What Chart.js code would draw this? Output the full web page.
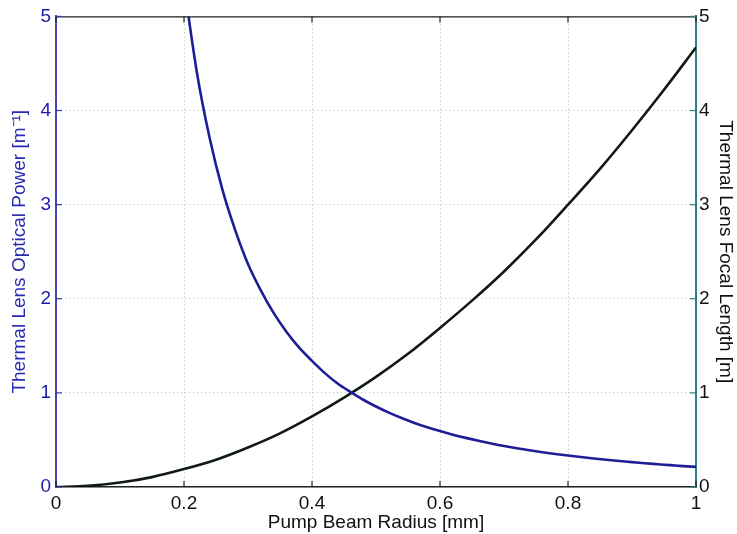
<!DOCTYPE html>
<html>
<head>
<meta charset="utf-8">
<script src="https://cdn.jsdelivr.net/npm/chart.js@4/dist/chart.umd.min.js"></script>
<style>
  html, body { margin: 0; padding: 0; background: #fff; }
  #wrap { width: 737px; height: 534px; }
</style>
</head>
<body>
<div id="wrap"><canvas id="c" width="737" height="534"></canvas></div>
<script>
// Pump beam radius [mm] and read values
const radiusBlack = [0, 0.05, 0.1, 0.15, 0.2, 0.25, 0.3, 0.35, 0.4, 0.45, 0.5, 0.55, 0.6, 0.65, 0.7, 0.75, 0.8, 0.85, 0.9, 0.95, 1.0];
const focalLength = [0, 0.012, 0.047, 0.105, 0.19, 0.29, 0.42, 0.57, 0.75, 0.95, 1.17, 1.415, 1.69, 1.98, 2.29, 2.63, 3.0, 3.38, 3.79, 4.22, 4.67];
const radiusBlue = [0.2, 0.22, 0.24, 0.26, 0.28, 0.3, 0.32, 0.34, 0.36, 0.38, 0.4, 0.42, 0.44, 0.46, 0.48, 0.5, 0.52, 0.54, 0.56, 0.58, 0.6, 0.62, 0.64, 0.66, 0.68, 0.7, 0.72, 0.74, 0.76, 0.78, 0.8, 0.82, 0.84, 0.86, 0.88, 0.9, 0.92, 0.94, 0.96, 0.98, 1.0];
const opticalPower = [5.34, 4.41, 3.71, 3.16, 2.73, 2.37, 2.09, 1.85, 1.65, 1.48, 1.34, 1.21, 1.10, 1.01, 0.927, 0.855, 0.790, 0.733, 0.681, 0.635, 0.594, 0.556, 0.522, 0.491, 0.462, 0.436, 0.412, 0.390, 0.370, 0.351, 0.334, 0.318, 0.303, 0.289, 0.276, 0.264, 0.252, 0.242, 0.232, 0.222, 0.214];
const xTicks = [0, 0.2, 0.4, 0.6, 0.8, 1];
const yTicks = [0, 1, 2, 3, 4, 5];

const FONT = "'Liberation Sans', Arial, sans-serif";

const tickMarks = {
  id: 'tickMarks',
  afterDraw(chart) {
    const {ctx, chartArea: a, scales} = chart;
    ctx.save();
    ctx.lineWidth = 1.2;
    ctx.strokeStyle = '#222';
    ctx.beginPath();
    ctx.moveTo(a.left, a.top + 0.5);
    ctx.lineTo(a.right, a.top + 0.5);
    ctx.stroke();
    xTicks.forEach(v => {
      const px = scales.x.getPixelForValue(v);
      ctx.beginPath();
      ctx.moveTo(px, a.bottom); ctx.lineTo(px, a.bottom - 6);
      ctx.moveTo(px, a.top); ctx.lineTo(px, a.top + 6);
      ctx.stroke();
    });
    yTicks.forEach(v => {
      const py = scales.y.getPixelForValue(v);
      ctx.strokeStyle = '#3a3aa8';
      ctx.beginPath();
      ctx.moveTo(a.left, py); ctx.lineTo(a.left + 6, py);
      ctx.stroke();
      const py2 = scales.y2.getPixelForValue(v);
      ctx.strokeStyle = '#2f7f7f';
      ctx.beginPath();
      ctx.moveTo(a.right, py2); ctx.lineTo(a.right - 6, py2);
      ctx.stroke();
    });
    ctx.restore();
  }
};

new Chart(document.getElementById('c'), {
  type: 'line',
  data: {
    datasets: [
      {
        label: 'Thermal Lens Optical Power',
        data: radiusBlue.map((x, i) => ({x, y: opticalPower[i]})),
        yAxisID: 'y',
        borderColor: '#1e1e96',
        borderWidth: 2.6,
        pointRadius: 0,
        cubicInterpolationMode: 'monotone',
        fill: false
      },
      {
        label: 'Thermal Lens Focal Length',
        data: radiusBlack.map((x, i) => ({x, y: focalLength[i]})),
        yAxisID: 'y2',
        borderColor: '#0f1a10',
        borderWidth: 2.6,
        pointRadius: 0,
        cubicInterpolationMode: 'monotone',
        fill: false
      }
    ]
  },
  options: {
    responsive: false,
    animation: false,
    devicePixelRatio: 1,
    layout: { padding: { top: 16, left: 0, right: 0, bottom: 0 } },
    plugins: { legend: { display: false }, tooltip: { enabled: false } },
    scales: {
      x: {
        type: 'linear', min: 0, max: 1,
        afterBuildTicks: s => { s.ticks = xTicks.map(v => ({value: v})); },
        afterFit: s => { s.height = 47; },
        ticks: { color: '#111', font: { family: FONT, size: 19 }, padding: 5,
                 callback: v => String(v) },
        grid: { color: '#bdbdbd', lineWidth: 1, drawTicks: false },
        border: { display: true, color: '#222', width: 1.5, dash: [1, 3] },
        title: { display: true, text: 'Pump Beam Radius [mm]', color: '#111',
                 font: { family: FONT, size: 19 }, padding: { top: 2, bottom: 0 } }
      },
      y: {
        type: 'linear', position: 'left', min: 0, max: 5,
        afterBuildTicks: s => { s.ticks = yTicks.map(v => ({value: v})); },
        afterFit: s => { s.width = 56; },
        ticks: { color: '#1c1ca8', font: { family: FONT, size: 19 }, padding: 5 },
        grid: { color: '#bdbdbd', lineWidth: 1, drawTicks: false },
        border: { display: true, color: '#4646b4', width: 2, dash: [1, 3] },
        title: { display: true, text: 'Thermal Lens Optical Power [m⁻¹]', color: '#2a2ab0',
                 font: { family: FONT, size: 19 }, padding: { top: 8, bottom: 0 } }
      },
      y2: {
        type: 'linear', position: 'right', min: 0, max: 5,
        afterBuildTicks: s => { s.ticks = yTicks.map(v => ({value: v})); },
        afterFit: s => { s.width = 41; },
        ticks: { color: '#111', font: { family: FONT, size: 19 }, padding: 3 },
        grid: { display: true, drawOnChartArea: false, drawTicks: false },
        border: { display: true, color: '#2f7f7f', width: 2 },
        title: { display: true, text: 'Thermal Lens Focal Length [m]', color: '#111',
                 font: { family: FONT, size: 19 }, padding: { top: 0, bottom: 0 } }
      }
    }
  },
  plugins: [tickMarks]
});
</script>
</body>
</html>
